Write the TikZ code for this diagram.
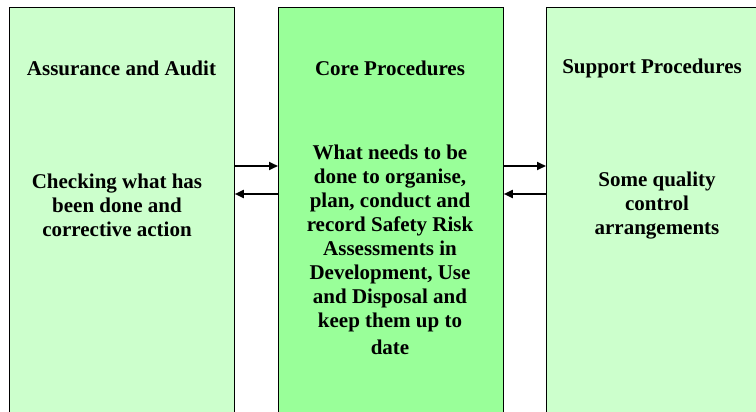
\documentclass[tikz,border=0pt]{standalone}
\usepackage{fontspec}
\setmainfont{Liberation Serif}
\usetikzlibrary{arrows.meta}
\definecolor{lightg}{HTML}{CCFFCC}
\definecolor{midg}{HTML}{99FF99}
\tikzset{
  panel/.style={draw=black, line width=0.8pt, minimum width=225pt, minimum height=420pt, inner sep=0pt, anchor=north west},
  ttl/.style={font=\fontsize{21}{24}\selectfont\bfseries, align=center, inner sep=0pt},
  body/.style={font=\fontsize{21}{24}\selectfont\bfseries, align=center, inner sep=0pt},
  arr/.style={line width=1.8pt, -{Triangle[length=9pt,width=8pt]}}
}
\begin{document}
\begin{tikzpicture}[x=1pt,y=-1pt]
\useasboundingbox (0,0) rectangle (756,412);
\clip (0,0) rectangle (756,412);
\node[panel, fill=lightg] (left) at (9,7) {};
\node[panel, fill=midg] (core) at (278,7) {};
\node[panel, fill=lightg] (right) at (546,7) {};
\node[ttl] (lt) at (121.5,68) {Assurance and Audit};
\node[ttl] (ct) at (390,68) {Core Procedures};
\node[ttl] (rt) at (652,68) {Support Procedures};
\node[body] (lb) at (117,205) {Checking what has\\been done and\\corrective action};
\node[body, anchor=north] (cb) at (390,145) {What needs to be\\done to organise,\\plan, conduct and\\record Safety Risk\\Assessments in\\Development, Use\\and Disposal and\\keep them up to\\[3pt]date};
\node[body] (rb) at (657,206) {Some quality\\control\\arrangements};
\coordinate (u) at (0,166);
\coordinate (d) at (0,194);
\draw[arr] (left.east |- u) -- (core.west |- u);
\draw[arr] (core.west |- d) -- (left.east |- d);
\draw[arr] (core.east |- u) -- (right.west |- u);
\draw[arr] (right.west |- d) -- (core.east |- d);
\end{tikzpicture}
\end{document}
